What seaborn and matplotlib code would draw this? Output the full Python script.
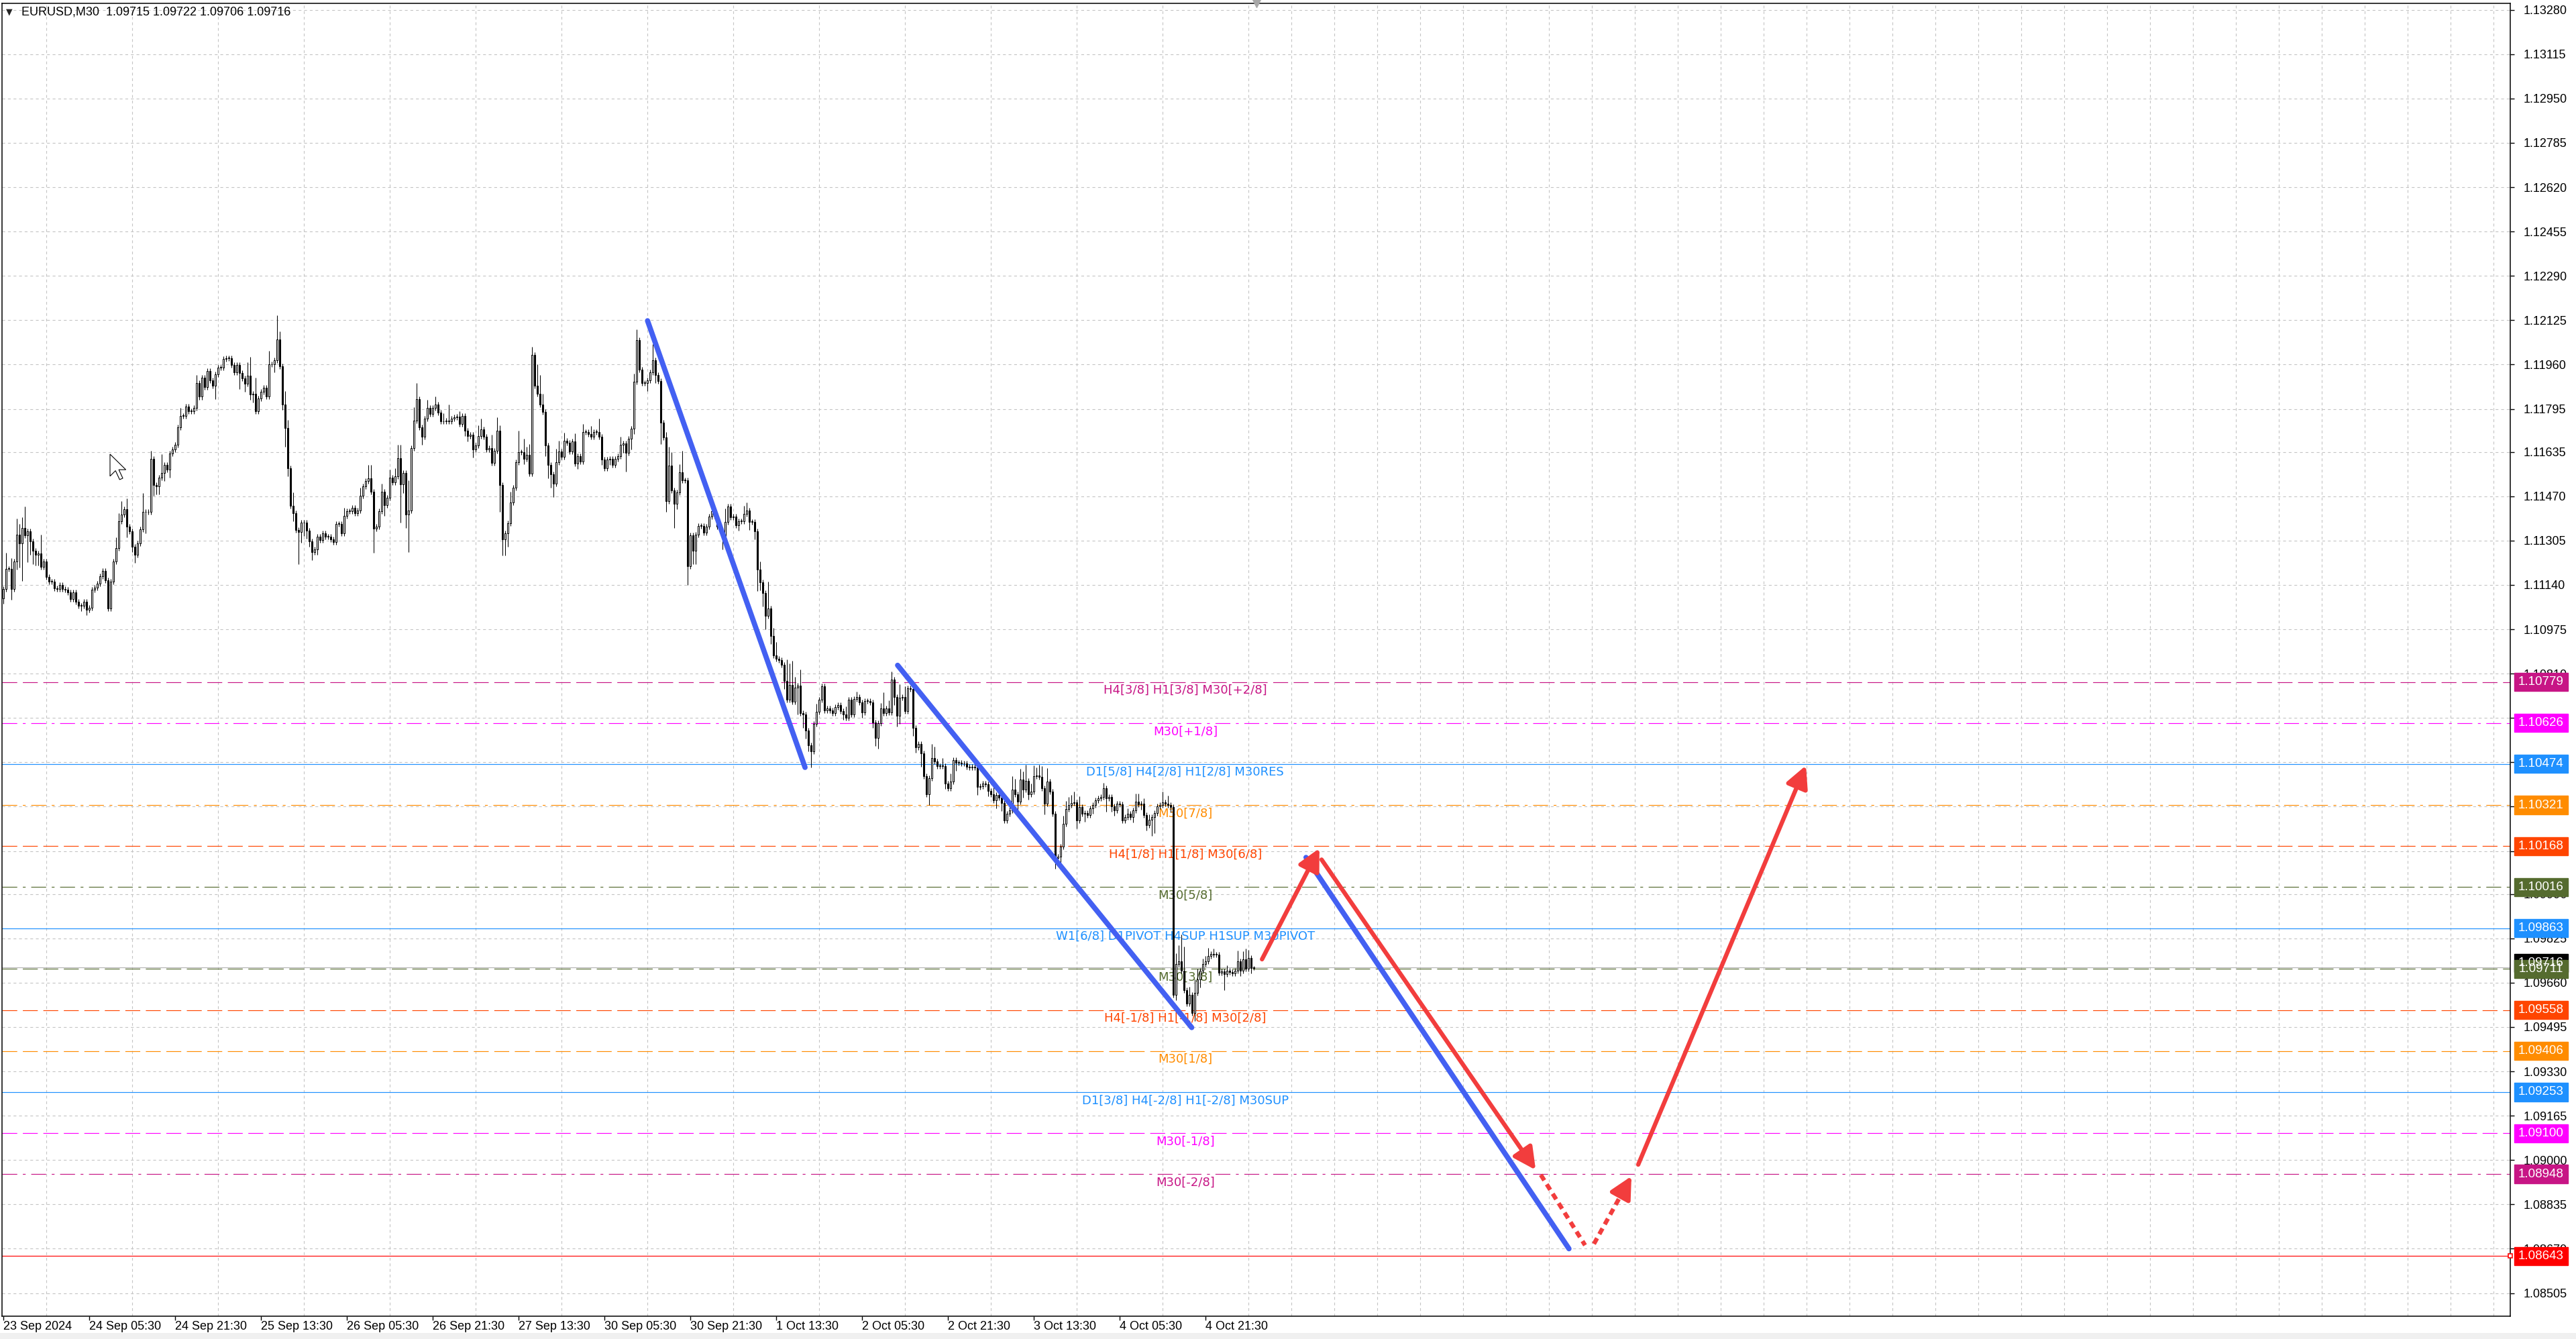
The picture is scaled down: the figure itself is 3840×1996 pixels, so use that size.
import numpy as np
import pandas as pd
import matplotlib
matplotlib.use("Agg")
import matplotlib.pyplot as plt
from matplotlib.patches import Rectangle, Polygon
from matplotlib.transforms import blended_transform_factory
import seaborn as sns

# ---- M30 closes, in pips (price * 10000) ----
closes_a = [  # bars 0-80
    11112.4, 11119.9, 11119.9, 11112.4, 11122.8, 11132.8, 11129.5, 11135.3, 11132.4, 11134.0,
    11130.3, 11126.6, 11125.3, 11125.7, 11120.7, 11122.8, 11117.0, 11115.3, 11115.3, 11112.8,
    11112.4, 11114.1, 11112.4, 11112.2, 11111.3, 11108.8, 11111.2, 11107.8, 11106.2, 11106.3,
    11107.7, 11104.7, 11105.6, 11112.2, 11113.0, 11114.5, 11117.2, 11119.1, 11115.7, 11105.3,
    11115.3, 11122.6, 11127.6, 11137.8, 11140.1, 11142.1, 11135.7, 11134.0, 11128.2, 11125.3,
    11129.5, 11134.6, 11141.1, 11141.1, 11141.1, 11160.9, 11151.1, 11150.7, 11154.0, 11155.7,
    11158.6, 11157.0, 11162.8, 11164.4, 11166.2, 11172.7, 11176.9, 11176.9, 11180.4, 11178.7,
    11178.7, 11180.0, 11189.0, 11184.0, 11191.0, 11187.7, 11193.5, 11190.2, 11188.1, 11192.3,
    11194.8,
]
closes_b = [  # bars 81-163
    11194.8, 11198.1, 11198.3, 11198.3, 11195.8, 11193.1, 11195.8, 11192.8, 11190.9, 11188.9,
    11191.8, 11184.8, 11185.0, 11178.7, 11183.4, 11185.9, 11187.3, 11184.2, 11196.0, 11196.0,
    11197.7, 11205.3, 11195.3, 11181.2, 11172.5, 11157.3, 11143.4, 11140.7, 11134.4, 11133.6,
    11137.1, 11137.1, 11134.3, 11130.3, 11126.1, 11127.1, 11132.0, 11130.7, 11133.2, 11132.0,
    11132.0, 11131.0, 11129.9, 11136.8, 11136.8, 11133.2, 11139.6, 11141.5, 11141.5, 11142.8,
    11140.7, 11141.8, 11147.3, 11150.7, 11152.6, 11153.6, 11148.6, 11134.9, 11135.7, 11141.5,
    11148.7, 11143.8, 11146.5, 11154.0, 11152.1, 11154.4, 11161.1, 11151.3, 11155.7, 11140.1,
    11141.8, 11164.8, 11175.2, 11183.1, 11172.7, 11169.2, 11176.0, 11179.8, 11177.7, 11179.8,
    11181.2, 11178.1, 11174.8,
]
closes_c = [  # bars 164-233
    11174.8, 11175.2, 11175.0, 11176.0, 11176.4, 11176.6, 11173.9, 11177.0, 11171.5, 11169.4,
    11169.8, 11164.5, 11165.9, 11169.4, 11172.0, 11169.2, 11164.4, 11164.8, 11159.4, 11164.0,
    11171.3, 11151.1, 11130.9, 11133.2, 11136.9, 11144.6, 11150.1, 11159.6, 11163.4, 11163.5,
    11160.9, 11162.5, 11155.4, 11199.7, 11188.1, 11185.2, 11181.2, 11178.5, 11166.0, 11158.6,
    11155.1, 11151.7, 11159.6, 11163.7, 11161.7, 11167.7, 11167.0, 11163.7, 11167.3, 11159.2,
    11162.0, 11160.0, 11171.0, 11171.0, 11170.2, 11169.2, 11170.9, 11170.9, 11169.2, 11160.6,
    11157.3, 11160.6, 11160.9, 11158.6, 11160.9, 11161.9, 11166.2, 11166.7, 11163.1, 11168.4,
]
closes_d = [  # bars 234-313
    11172.2, 11189.7, 11205.2, 11194.0, 11189.1, 11189.1, 11190.2, 11193.1, 11197.7, 11192.2,
    11189.9, 11174.5, 11168.8, 11145.1, 11158.4, 11149.2, 11144.3, 11148.5, 11155.8, 11152.9,
    11152.9, 11121.0, 11132.5, 11126.7, 11132.8, 11135.9, 11135.9, 11133.4, 11135.7, 11139.4,
    11141.4, 11139.7, 11135.7, 11134.5, 11132.2, 11137.4, 11143.2, 11139.1, 11139.4, 11136.3,
    11137.8, 11137.8, 11140.5, 11141.7, 11137.4, 11137.4, 11134.0, 11119.8, 11115.0, 11111.0,
    11102.6, 11105.3, 11095.0, 11087.7, 11086.6, 11086.1, 11084.3, 11078.3, 11071.2, 11076.9,
    11070.5, 11075.8, 11076.6, 11066.2, 11065.9, 11059.7, 11054.2, 11052.1, 11062.2, 11066.8,
    11071.4, 11076.2, 11067.4, 11068.0, 11067.4, 11066.2, 11068.5, 11069.3, 11067.0, 11065.7,
]
closes_e = [  # bars 314-398
    11064.5, 11071.2, 11065.8, 11071.6, 11072.4, 11070.4, 11066.6, 11070.8, 11070.8, 11070.2,
    11062.9, 11057.1, 11062.5, 11068.0, 11066.4, 11068.0, 11066.6, 11078.9, 11072.4, 11065.4,
    11072.0, 11072.2, 11067.0, 11075.5, 11075.4, 11060.8, 11053.6, 11054.7, 11051.4, 11042.9,
    11036.1, 11042.2, 11049.7, 11048.3, 11046.7, 11046.7, 11046.7, 11040.0, 11038.3, 11040.8,
    11048.9, 11047.9, 11047.9, 11047.5, 11047.5, 11046.4, 11046.2, 11046.4, 11046.1, 11038.8,
    11039.2, 11040.0, 11039.8, 11037.3, 11036.1, 11033.8, 11035.8, 11034.8, 11032.8, 11026.3,
    11028.8, 11030.0, 11037.9, 11036.1, 11033.3, 11041.7, 11037.9, 11041.1, 11036.1, 11037.1,
    11042.9, 11043.1, 11042.5, 11038.3, 11032.5, 11040.8, 11037.1, 11028.8, 11012.5, 11013.0,
    11016.7, 11025.0, 11030.6, 11032.1, 11032.9,
]
closes_f = [  # bars 399-466
    11033.1, 11026.3, 11031.3, 11028.8, 11029.2, 11028.4, 11030.8, 11032.1, 11033.8, 11034.7,
    11035.2, 11038.3, 11034.7, 11035.0, 11031.7, 11030.0, 11032.5, 11032.3, 11026.4, 11027.5,
    11028.9, 11027.5, 11030.0, 11033.3, 11032.3, 11032.5, 11028.4, 11024.6, 11026.7, 11027.5,
    11029.2, 11031.7, 11032.1, 11033.1, 11032.5, 11032.1, 11031.3, 10961.4, 10973.0, 10973.9,
    10970.5, 10963.1, 10958.1, 10961.4, 10954.7, 10962.2, 10967.2, 10970.5, 10973.0, 10974.0,
    10975.9, 10976.8, 10976.5, 10976.4, 10969.7, 10970.1, 10969.3, 10970.5, 10969.9, 10969.5,
    10970.5, 10973.9, 10970.5, 10974.6, 10971.3, 10975.1, 10971.5, 10971.6,
]
first_open = 11109.1

# wick lengths in pips for bars with visible shadows; others about 1 pip
base_wick = 1.0
wick_hi = {
    1: 6, 3: 4, 5: 6, 6: 4, 7: 4, 8: 8, 14: 7, 42: 4, 43: 3, 44: 5, 46: 4, 52: 7, 55: 3, 59: 7,
    66: 3, 72: 3, 91: 5, 92: 7, 94: 6, 99: 5, 102: 9, 103: 3, 105: 5, 106: 3, 108: 5, 127: 3,
    133: 3, 136: 5, 137: 5, 141: 3, 144: 3, 146: 3, 147: 5, 148: 5, 151: 11, 153: 5, 154: 6,
    158: 3, 161: 3, 164: 3, 166: 6, 170: 2, 177: 4, 178: 4, 182: 5, 184: 5, 185: 2, 189: 4,
    192: 8, 194: 5, 195: 3, 196: 4, 197: 3, 199: 8, 200: 7, 201: 4, 206: 5, 207: 4, 209: 3,
    213: 3, 216: 3, 219: 3, 222: 5, 230: 3, 235: 3, 236: 4, 242: 6, 247: 2, 248: 7, 249: 5,
    252: 3, 253: 8, 264: 3, 269: 5, 276: 3, 277: 3, 282: 3, 285: 10, 287: 3, 288: 5, 292: 8,
    293: 8, 294: 9, 295: 4, 297: 6, 303: 3, 314: 3, 318: 2, 327: 2, 328: 6, 330: 3, 331: 3,
    334: 5, 336: 4, 339: 3, 346: 5, 347: 4, 350: 3, 353: 3, 369: 3, 375: 3, 376: 5, 377: 4,
    379: 4, 380: 3, 381: 6, 383: 3, 384: 4, 385: 3, 386: 4, 387: 4, 389: 5, 395: 3, 396: 3,
    397: 3, 398: 3, 399: 4, 401: 4, 410: 2, 419: 2, 422: 3, 423: 3, 425: 2, 427: 2, 432: 4,
    434: 3, 437: 4, 438: 6, 439: 10, 440: 9, 442: 3, 444: 5, 445: 4, 447: 2, 448: 2, 449: 3,
    451: 2, 456: 2, 460: 4, 462: 3, 463: 4, 464: 3, 466: 0.6,
}
wick_lo = {
    0: 2, 3: 4, 5: 3, 6: 9, 7: 14, 9: 10, 10: 5, 11: 5, 12: 4, 13: 4, 29: 2, 31: 2, 46: 4,
    48: 2, 49: 3, 53: 8, 56: 4, 57: 3, 58: 3, 60: 3, 62: 3, 79: 5, 88: 6, 90: 3, 92: 2, 93: 3,
    101: 3, 104: 2, 105: 7, 106: 3, 108: 3, 110: 12, 111: 4, 112: 5, 113: 3, 114: 2, 115: 3,
    117: 2, 138: 9, 142: 4, 148: 14, 149: 3, 150: 5, 151: 14, 156: 3, 172: 2, 173: 2, 175: 3,
    185: 10, 186: 6, 187: 6, 188: 5, 194: 2, 202: 4, 203: 5, 204: 5, 205: 5, 214: 2, 223: 2,
    226: 2, 231: 3, 232: 7, 234: 4, 235: 2, 240: 3, 243: 3, 245: 8, 247: 4, 250: 9, 251: 2,
    255: 7, 257: 5, 258: 5, 268: 5, 274: 2, 278: 3, 280: 3, 281: 8, 282: 3, 283: 5, 284: 5,
    286: 3, 291: 3, 296: 10, 298: 5, 299: 3, 300: 2, 301: 6, 313: 2, 320: 2, 324: 2, 325: 3,
    326: 4, 332: 3, 333: 4, 334: 3, 339: 3, 340: 2, 342: 5, 345: 4, 351: 2, 355: 3, 363: 3,
    367: 2, 370: 3, 372: 3, 378: 4, 380: 3, 382: 2, 388: 4, 392: 4, 394: 3, 400: 3, 403: 3,
    406: 2, 411: 5, 413: 2, 414: 2, 421: 2, 424: 2, 426: 2, 428: 6, 429: 6, 435: 2, 436: 1,
    437: 2, 443: 1, 444: 3, 446: 3, 452: 1, 455: 6, 461: 2, 465: 2, 466: 0.9,
}

time_labels = ["23 Sep 2024", "24 Sep 05:30", "24 Sep 21:30", "25 Sep 13:30", "26 Sep 05:30",
               "26 Sep 21:30", "27 Sep 13:30", "30 Sep 05:30", "30 Sep 21:30", "1 Oct 13:30",
               "2 Oct 05:30", "2 Oct 21:30", "3 Oct 13:30", "4 Oct 05:30", "4 Oct 21:30"]
bars_per_label = 32

price_ticks = [1.13280, 1.13115, 1.12950, 1.12785, 1.12620, 1.12455, 1.12290, 1.12125,
               1.11960, 1.11795, 1.11635, 1.11470, 1.11305, 1.11140, 1.10975, 1.10810,
               1.10645, 1.10480, 1.10315, 1.10150, 1.09990, 1.09825, 1.09660, 1.09495,
               1.09330, 1.09165, 1.09000, 1.08835, 1.08670, 1.08505]

level_prices = [1.10779, 1.10626, 1.10474, 1.10321, 1.10168, 1.10016, 1.09863,
                1.09711, 1.09558, 1.09406, 1.09253, 1.09100, 1.08948, 1.08643]
level_colors = ["#C71585", "#FF00FF", "#1E90FF", "#FF8C00", "#FF4500", "#556B2F", "#1E90FF",
                "#556B2F", "#FF4500", "#FF8C00", "#1E90FF", "#FF00FF", "#C71585", "#FF0000"]
level_styles = ["dash", "dashdot", "solid", "dashdot", "dash", "dashdot", "solid",
                "dash", "dash", "dash", "solid", "dash", "dashdot", "solid"]
level_texts = ["H4[3/8] H1[3/8] M30[+2/8]", "M30[+1/8]", "D1[5/8] H4[2/8] H1[2/8] M30RES",
               "M30[7/8]", "H4[1/8] H1[1/8] M30[6/8]", "M30[5/8]",
               "W1[6/8] D1PIVOT H4SUP H1SUP M30PIVOT", "M30[3/8]",
               "H4[-1/8] H1[-1/8] M30[2/8]", "M30[1/8]", "D1[3/8] H4[-2/8] H1[-2/8] M30SUP",
               "M30[-1/8]", "M30[-2/8]", ""]
bid_price = 1.09716
header_ohlc = ["1.09715", "1.09722", "1.09706", "1.09716"]

# drawn trend lines and projection (bar index, price)
blue_x = [[240.0, 298.7], [333.2, 442.8], [485.4, 583.4]]
blue_y = [[1.12123, 1.10461], [1.10841, 1.09493], [1.10126, 1.08670]]
red_x = [[469.0, 490.4], [491.2, 571.0], [609.2, 671.7]]
red_y = [[1.09747, 1.10160], [1.10118, 1.08963], [1.08983, 1.10468]]
red_dash_x = [[572.9, 589.4], [592.7, 606.7]]
red_dash_y = [[1.08945, 1.08683], [1.08688, 1.08940]]
red_dash_head = [False, True]

# ---- build OHLC table ----
closes = np.array(closes_a + closes_b + closes_c + closes_d + closes_e + closes_f) / 1e4
n = len(closes)
opens = np.concatenate([[first_open / 1e4], closes[:-1]])
up = np.array([wick_hi.get(i, base_wick) for i in range(n)]) / 1e4
dn = np.array([wick_lo.get(i, base_wick) for i in range(n)]) / 1e4
df = pd.DataFrame({"bar": np.arange(n), "open": opens, "close": closes})
df["high"] = df[["open", "close"]].max(axis=1) + up
df["low"] = df[["open", "close"]].min(axis=1) - dn

# ---- style ----
sns.set_theme(style="white")
plt.rcParams["font.family"] = ["Liberation Sans", "DejaVu Sans"]
plt.rcParams["lines.scale_dashes"] = False
plt.rcParams["axes.linewidth"] = 1.1
dash_map = {"dash": (0, (16, 6)), "dashdot": (0, (16, 6, 3, 6)), "solid": "-"}
grid_kw = dict(color="#C4C4C4", linestyle=(0, (3, 3)), linewidth=0.8)
red = "#F23D3D"
blue = "#4360F2"

W, H = 3840, 1996
fig = plt.figure(figsize=(W / 100, H / 100), dpi=100)
fig.patch.set_facecolor("white")
ax = fig.add_axes([3 / W, 34 / H, 3739 / W, 1957 / H])
ax.set_facecolor("white")
ax.set_xlim(-0.575, 934.2)
ax.set_ylim(1.08419, 1.13304)
for s in ax.spines.values():
    s.set_color("black")

# grid
ax.set_axisbelow(True)
ax.set_xticks(np.arange(0, 935, 16), minor=True)
ax.set_xticks(np.arange(len(time_labels)) * bars_per_label)
ax.set_xticklabels(time_labels, ha="left")
ax.grid(which="minor", axis="x", **grid_kw)
ax.yaxis.tick_right()
ax.set_yticks(price_ticks)
ax.set_yticklabels([f"{v:.5f}" for v in price_ticks])
ax.grid(which="major", axis="y", **grid_kw)
ax.tick_params(axis="x", which="minor", length=0)
ax.tick_params(axis="x", which="major", length=4, width=1, pad=1, labelsize=13,
               colors="black", direction="out", bottom=True)
ax.tick_params(axis="y", length=4, width=1, pad=10, labelsize=13, colors="black",
               direction="out", right=True, left=False)

# level lines + labels
label_bar = 440.4
for p, c, st, t in zip(level_prices, level_colors, level_styles, level_texts):
    ax.axhline(p, color=c, lw=0.85, ls=dash_map[st], zorder=1.5)
    if t:
        ax.annotate(t, xy=(label_bar, p), xytext=(0, -2.5), textcoords="offset points",
                    ha="center", va="top", color=c, fontsize=13, family="DejaVu Sans",
                    zorder=2)
ax.axhline(bid_price, color="#B8B8B8", lw=0.9, zorder=1.6)

# candles
ax.vlines(df["bar"], df["low"], df["high"], color="black", lw=0.75, zorder=3)
body_lo = df[["open", "close"]].min(axis=1)
body_h = np.maximum((df["close"] - df["open"]).abs(), 0.00002)
body_c = np.where(df["close"] >= df["open"], "white", "black")
ax.bar(df["bar"], body_h, bottom=body_lo, width=0.55, color=body_c,
       edgecolor="black", linewidth=0.75, zorder=4)

# trend lines and projection
for xs, ys in zip(blue_x, blue_y):
    sns.lineplot(x=xs, y=ys, ax=ax, color=blue, linewidth=5.6, sort=False,
                 solid_capstyle="round", zorder=6)
arrow_kw = dict(arrowstyle="-|>,head_length=0.55,head_width=0.28", color=red, lw=4.6,
                mutation_scale=36, shrinkA=0, shrinkB=0)
for xs, ys in zip(red_x, red_y):
    ax.annotate("", xy=(xs[1], ys[1]), xytext=(xs[0], ys[0]), arrowprops=arrow_kw, zorder=7)
for xs, ys, head in zip(red_dash_x, red_dash_y, red_dash_head):
    sns.lineplot(x=xs, y=ys, ax=ax, color=red, linewidth=4.6, sort=False,
                 linestyle=(0, (7, 5)), zorder=7)
    if head:
        fx = xs[0] + 0.8 * (xs[1] - xs[0])
        fy = ys[0] + 0.8 * (ys[1] - ys[0])
        ax.annotate("", xy=(xs[1], ys[1]), xytext=(fx, fy), arrowprops=arrow_kw, zorder=7)

# price boxes on the right scale
trans = blended_transform_factory(ax.transAxes, ax.transData)
box_h = 0.00068


def price_box(p, c, y=None):
    y = p if y is None else y
    ax.add_patch(Rectangle((1.0016, y - box_h / 2), 0.0214, box_h, transform=trans,
                           facecolor=c, edgecolor=c, clip_on=False, zorder=10))
    ax.text(1.0123, y, f"{p:.5f}", transform=trans, color="white", ha="center",
            va="center", fontsize=13.5, zorder=11, clip_on=False)


price_box(bid_price, "black", y=bid_price + 0.00017)
for p, c in zip(level_prices, level_colors):
    price_box(p, c)
ax.plot([1.0], [level_prices[-1]], marker="s", ms=4, mfc="white", mec="red", mew=1.2,
        transform=trans, clip_on=False, zorder=12)
ax.plot([n], [1.0], marker="v", ms=9, color="#A8A8A8", clip_on=False, zorder=12,
        transform=blended_transform_factory(ax.transData, ax.transAxes))

# header
fig.text(9 / W, 1 - 18 / H, "\u25bc", fontsize=9, family="DejaVu Sans", va="center")
fig.text(32 / W, 1 - 18 / H, "EURUSD,M30  " + " ".join(header_ohlc), fontsize=13,
         va="center", ha="left", color="black")

# mouse pointer left on the chart
cur = np.array([[0, 0], [0, 16], [4, 12], [7, 18.5], [9.3, 17.5], [6.4, 11.3], [11.5, 11.3]])
cur = cur * 2.05 + np.array([164, 677])
fig.add_artist(Polygon(np.column_stack([cur[:, 0] / W, 1 - cur[:, 1] / H]), closed=True,
                       transform=fig.transFigure, facecolor="white", edgecolor="black",
                       lw=0.8, zorder=20))

# status strip at the bottom
fig.add_artist(Rectangle((0, 0), 1, 9 / H, transform=fig.transFigure,
                         facecolor="#F0F0F0", edgecolor="none"))

fig.savefig("out.png", dpi=100)
